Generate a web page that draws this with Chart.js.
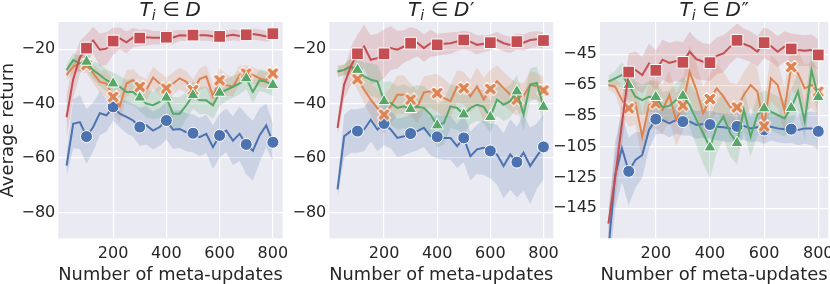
<!DOCTYPE html>
<html>
<head>
<meta charset="utf-8">
<script src="https://cdn.jsdelivr.net/npm/chart.js@4.4.0/dist/chart.umd.min.js"></script>
<style>
    html, body { margin: 0; padding: 0; background: #fff; }
    #wrap { position: relative; width: 830px; height: 284px; overflow: hidden; }
    #wrap canvas { position: absolute; top: 0; }
</style>
</head>
<body>
<div id="wrap">
    <canvas id="panel1" width="300" height="284" style="left:0px"></canvas>
    <canvas id="panel2" width="290" height="284" style="left:280px"></canvas>
    <canvas id="panel3" width="300" height="284" style="left:550px"></canvas>
</div>
<script>
// ── Données ──────────────────────────────────────────────
const UPDATES = [25, 50, 75, 100, 125, 150, 175, 200, 225, 250, 275, 300, 325, 350, 375, 400,
                 425, 450, 475, 500, 525, 550, 575, 600, 625, 650, 675, 700, 725, 750, 775, 800];
const MARKER_AT = [100, 200, 300, 400, 500, 600, 700, 800];
const X_TICKS = [200, 400, 600, 800];
const Y_TICKS_D = [-20, -40, -60, -80];
const Y_TICKS_D1 = [-20, -40, -60, -80];
const Y_TICKS_D2 = [-45, -65, -85, -105, -125, -145];
const TITLE_PRIMES = ['', '\u2032', '\u2033'];

// panel T_i ∈ D
const D_BLUE = [-62.8, -47.4, -46.8, -52.1, -48.6, -43.5, -44.3, -41.2, -43.7, -44.9, -46.2, -48.6, -48, -49.9, -48.6, -46.2,
                -49.6, -49.3, -50.5, -50.9, -52.3, -51.1, -56, -51.7, -49.9, -53.6, -51.1, -55, -57.3, -51.7, -48, -54.2];
const D_BLUE_CI = [4, 9, 10, 10, 9, 8, 6, 5, 5, 6, 6, 7, 7, 7, 7, 7, 7, 7, 7, 7, 7, 7, 8, 8, 8, 9, 10, 11, 11, 10, 8, 7];
const D_ORANGE = [-29.5, -26.4, -25.2, -25.8, -28.9, -32, -32.6, -37.5, -41, -32.6, -31.4, -33.8, -35, -30.4, -32.6, -34.4,
                  -32.6, -30.7, -32, -35, -31, -30, -37.3, -31.4, -33.2, -33.8, -29.5, -28.9, -29.5, -30.7, -31.4, -28.9];
const D_ORANGE_CI = [2, 2.5, 3, 3, 3.5, 4, 5, 6, 6, 5, 4, 4, 4, 4, 4, 4, 4, 4, 4, 4, 4, 4, 4.5, 4.5, 4, 3.5, 3.5, 3, 3, 3, 3, 3];
const D_GREEN = [-27.7, -24, -25.2, -24.6, -27.7, -29.5, -31.4, -32.6, -33.8, -35.7, -35.7, -37.8, -40, -40.6, -39.4, -37.8,
                 -43.7, -43.7, -40.6, -36.9, -38.8, -38.8, -40.6, -36, -35, -33.8, -32.6, -30.7, -35.7, -31.4, -32, -33.2];
const D_GREEN_CI = [2, 2.5, 3, 3, 3.5, 4, 4, 4, 4, 4.5, 5, 5, 5, 5, 6, 6, 6, 6, 5, 5, 5, 5, 5, 5, 4, 4, 4, 4, 4, 4, 4, 4];
const D_RED = [-45, -31, -23, -19.6, -16.8, -20.2, -19.8, -17, -16, -17.5, -15.7, -15.9, -15.6, -15.8, -15.8, -15.6,
               -15.7, -14.9, -15, -14.8, -14.9, -14.9, -15.2, -15.3, -15.1, -14.7, -15.1, -14.7, -14.4, -14.8, -15.3, -14.3];
const D_RED_CI = [8, 7, 6, 5, 5, 6, 6, 5, 4, 4, 3.5, 3, 3, 2.5, 2.5, 2.5, 2.5, 2, 2, 2, 2, 2, 2, 2, 2, 2, 2, 2, 2, 2, 2, 2];

// panel T_i ∈ D′
const D1_BLUE = [-71.5, -52, -50.1, -50.1, -49.5, -45.9, -49.5, -47.3, -49.5, -52.6, -52, -51, -50.1, -48.9, -52, -52.2,
                 -52.6, -52.6, -55.6, -52.6, -59.3, -56.8, -56.2, -57.4, -58.7, -62.9, -58.7, -61.5, -58, -62.9, -59.3, -55.9];
const D1_BLUE_CI = [3, 8, 8, 8, 8, 8, 8, 8, 7, 7, 7, 7, 7, 7, 7, 8, 8, 8, 8, 9, 9, 9, 10, 10, 11, 12, 13, 13, 14, 14, 12, 12];
const D1_ORANGE = [-28.2, -27.6, -26.3, -31, -34.9, -38.5, -41.6, -44, -40.9, -36.7, -36.7, -38.5, -41.2, -35.9, -35.5, -36.1,
                   -37.9, -39.1, -33.7, -34.3, -37.3, -33.7, -38.5, -34.6, -31.8, -34.3, -36.7, -38.5, -37.3, -33, -33.7, -35.1];
const D1_ORANGE_CI = [2, 2, 3, 4, 5, 6, 7, 7, 7, 7, 7, 6, 6, 6, 6, 7, 7, 6, 6, 6, 6, 7, 8, 7, 6, 6, 6, 6, 5, 5, 5, 5];
const D1_GREEN = [-28.2, -27.6, -26.3, -27.6, -30, -31.2, -31.8, -39.1, -39.8, -41.6, -41, -42, -41.2, -41.6, -44, -48,
                  -47.1, -41, -41.6, -44, -41.6, -40.4, -41.2, -44.9, -38.5, -40.4, -39.1, -35.5, -44, -33, -32.4, -41.2];
const D1_GREEN_CI = [2, 2, 3, 4, 5, 6, 6, 7, 8, 8, 8, 8, 8, 8, 8, 8, 8, 8, 8, 7, 6, 6, 6, 6, 6, 6, 6, 6, 6, 6, 6, 6];
const D1_RED = [-48.9, -33, -26.3, -21.7, -19, -23.9, -23.3, -21.7, -19.6, -20.2, -19, -17.8, -17.6, -19.6, -17.8, -18.4,
                -18, -17.8, -17.2, -16.6, -17.2, -18.4, -18, -17.6, -16.6, -17.8, -18.4, -17.2, -17.6, -16.6, -16.3, -16.8];
const D1_RED_CI = [3, 5, 7, 7, 8, 9, 9, 9, 8, 7, 6, 6, 5, 5, 5, 4, 4, 4, 3.5, 3.5, 3.5, 3.5, 3, 3, 3, 3, 3, 3, 3, 3, 3, 3];

// panel T_i ∈ D″
const D2_BLUE = [-172, -123.4, -106, -121, -113.6, -110.4, -94.1, -87.1, -87.6, -89.8, -87.6, -88.7, -88.7, -90.9, -90.2, -90.6,
                 -92, -92.4, -93.1, -91.8, -91.5, -93.1, -92.4, -94.1, -92, -93.1, -93.7, -93.6, -94.1, -93.1, -93.1, -95];
const D2_BLUE_CI = [20, 22, 22, 22, 18, 15, 12, 10, 9, 9, 9, 9, 9, 9, 9, 9, 9, 9, 9, 9, 9, 9, 9, 9, 9, 9, 9, 9, 10, 10, 11, 12];
const D2_ORANGE = [-64.9, -66, -74.7, -80, -76.8, -98.5, -77.9, -76.8, -81.1, -71.4, -87.6, -78.2, -56.3, -68.2, -83.3, -74,
                   -67.1, -72.5, -79.4, -79.4, -71.4, -64.9, -69.2, -91.7, -60.6, -64.9, -81.1, -53.2, -57.3, -67.1, -64.9, -69.2];
const D2_ORANGE_CI = [3, 5, 10, 12, 14, 15, 16, 16, 16, 16, 17, 17, 17, 17, 17, 16, 16, 16, 16, 15, 15, 15, 15, 15, 15, 15, 15, 15, 15, 15, 15, 15];
const D2_GREEN = [-62.7, -60.6, -58.4, -64.9, -72.5, -74.7, -72.5, -72.7, -79.4, -78.5, -74.7, -72, -77.9, -87.6, -96.3, -105.5,
                  -92, -85.5, -96.3, -102.6, -81.1, -98.5, -84.4, -80.1, -82.2, -84.4, -86.6, -79.8, -69.2, -88.7, -55.2, -72.8];
const D2_GREEN_CI = [4, 5, 8, 10, 10, 10, 10, 10, 10, 10, 11, 12, 14, 17, 20, 20, 17, 15, 15, 14, 14, 13, 13, 12, 12, 12, 12, 12, 12, 12, 12, 12];
const D2_RED = [-155, -125, -90, -56.5, -55.2, -58.5, -51, -55.4, -48.5, -50.6, -49.3, -50.2, -43.3, -48.2, -49.8, -50.4,
                -46, -44.4, -40, -35.9, -38.3, -40, -43.3, -37.4, -39.6, -43.3, -40, -41.5, -42.2, -42.6, -42.2, -45.4];
const D2_RED_CI = [10, 15, 15, 12, 12, 12, 13, 13, 13, 13, 13, 13, 13, 13, 12, 12, 12, 12, 11, 11, 10, 10, 10, 10, 10, 10, 10, 10, 10, 10, 10, 10];

// ── Styles ───────────────────────────────────────────────
const COLORS = ['#4C72B0', '#DD8452', '#55A868', '#C44E52'];
const BANDS = ['rgba(76,114,176,0.2)', 'rgba(221,132,82,0.2)', 'rgba(85,168,104,0.2)', 'rgba(196,78,82,0.2)'];
const TEXT = '#262626';
const FONT = 'DejaVu Sans';

Chart.defaults.font.family = FONT;
Chart.defaults.color = TEXT;

// marqueur "X" plein (style matplotlib)
const makeXMarker = (color) => {
    const c = document.createElement('canvas');
    c.width = 16; c.height = 16;
    const g = c.getContext('2d');
    g.translate(8, 8);
    g.rotate(Math.PI / 4);
    const a = 7, t = 2.3;
    g.beginPath();
    g.moveTo(-t, -a); g.lineTo(t, -a); g.lineTo(t, -t); g.lineTo(a, -t); g.lineTo(a, t); g.lineTo(t, t);
    g.lineTo(t, a); g.lineTo(-t, a); g.lineTo(-t, t); g.lineTo(-a, t); g.lineTo(-a, -t); g.lineTo(-t, -t);
    g.closePath();
    g.fillStyle = color; g.fill();
    g.strokeStyle = '#fff'; g.lineWidth = 1; g.stroke();
    return c;
};

const MARKERS = [
    { style: 'circle', r: 6 },
    { style: makeXMarker(COLORS[1]), r: 6 },
    { style: 'triangle', r: 7 },
    { style: 'rect', r: 8.3 }
];

// ── Fond + titre mathématique ────────────────────────────
const panelPlugin = {
    id: 'panelDeco',
    beforeDraw(chart) {
        const { ctx, chartArea: a } = chart;
        ctx.save();
        ctx.fillStyle = '#EAEAF2';
        ctx.fillRect(a.left, a.top, a.right - a.left, a.bottom - a.top);
        ctx.restore();
    },
    afterDraw(chart, args, opts) {
        const { ctx, chartArea: a } = chart;
        const parts = [
            { t: 'T', f: 'italic 20px ' + FONT, dy: 0, gap: 0 },
            { t: 'i', f: 'italic 14px ' + FONT, dy: 4, gap: 6.5 },
            { t: '\u2208', f: '20px ' + FONT, dy: 0, gap: 6 },
            { t: 'D', f: 'italic 20px ' + FONT, dy: 0, gap: 0.5 },
            { t: opts.prime, f: '20px ' + FONT, dy: 0, gap: 0 }
        ];
        ctx.save();
        let total = 0;
        parts.forEach(p => { ctx.font = p.f; p.w = ctx.measureText(p.t).width; total += p.w + p.gap; });
        let x = (a.left + a.right) / 2 - total / 2;
        ctx.fillStyle = TEXT;
        ctx.textBaseline = 'alphabetic';
        parts.forEach(p => {
            ctx.font = p.f;
            ctx.fillText(p.t, x, 16 + p.dy);
            x += p.w + p.gap;
        });
        ctx.restore();
    }
};

const minusFmt = (v) => (v < 0 ? '\u2212' : '') + Math.abs(v);

const buildChart = (id, cfg) => {
    const datasets = [];
    cfg.series.forEach((s, i) => {
        datasets.push({
            data: UPDATES.map((x, j) => ({ x, y: s.mean[j] - s.ci[j] })),
            borderColor: 'rgba(0,0,0,0)', borderWidth: 0, pointRadius: 0, fill: false, order: 20 + i
        });
        datasets.push({
            data: UPDATES.map((x, j) => ({ x, y: s.mean[j] + s.ci[j] })),
            borderColor: 'rgba(0,0,0,0)', borderWidth: 0, pointRadius: 0,
            fill: '-1', backgroundColor: BANDS[i], order: 20 + i
        });
    });
    cfg.series.forEach((s, i) => {
        datasets.push({
            data: UPDATES.map((x, j) => ({ x, y: s.mean[j] })),
            borderColor: COLORS[i],
            borderWidth: 2,
            fill: false,
            tension: 0,
            pointStyle: MARKERS[i].style,
            pointRadius: (c) => (MARKER_AT.includes(UPDATES[c.dataIndex]) ? MARKERS[i].r : 0),
            pointBackgroundColor: COLORS[i],
            pointBorderColor: '#ffffff',
            pointBorderWidth: 1,
            order: 4 - i
        });
    });

    return new Chart(document.getElementById(id), {
        type: 'line',
        data: { datasets },
        plugins: [panelPlugin],
        options: {
            responsive: false,
            animation: false,
            events: [],
            layout: { padding: { left: 0, right: cfg.padRight, top: 22, bottom: 0 } },
            plugins: {
                legend: { display: false },
                tooltip: { enabled: false },
                panelDeco: { prime: cfg.prime }
            },
            scales: {
                x: {
                    type: 'linear',
                    min: -6, max: 837,
                    afterBuildTicks: (s) => { s.ticks = X_TICKS.map(v => ({ value: v })); },
                    afterFit: (s) => { s.height = 45.7; },
                    grid: { color: '#ffffff', lineWidth: 1.2, drawTicks: false },
                    border: { display: false },
                    ticks: { font: { size: 16 }, padding: 6, maxRotation: 0, autoSkip: false, callback: (v) => String(v) },
                    title: { display: true, text: 'Number of meta-updates', font: { size: 18, lineHeight: 1 }, padding: 0 }
                },
                y: {
                    min: cfg.yMin, max: cfg.yMax,
                    afterBuildTicks: (s) => { s.ticks = cfg.yTicks.map(v => ({ value: v })); },
                    afterFit: (s) => { s.width = cfg.yWidth; },
                    grid: { color: '#ffffff', lineWidth: 1.2, drawTicks: false },
                    border: { display: false },
                    ticks: { font: { size: 16 }, padding: 3, autoSkip: false, callback: minusFmt },
                    title: { display: cfg.yTitle, text: 'Average return', font: { size: 18, lineHeight: 0.9 }, padding: 0 }
                }
            }
        }
    });
};

document.addEventListener('DOMContentLoaded', () => {
    buildChart('panel1', {
        prime: TITLE_PRIMES[0], yMin: -89.5, yMax: -10, yTicks: Y_TICKS_D, yWidth: 58.3, padRight: 17.3, yTitle: true,
        series: [
            { mean: D_BLUE, ci: D_BLUE_CI }, { mean: D_ORANGE, ci: D_ORANGE_CI },
            { mean: D_GREEN, ci: D_GREEN_CI }, { mean: D_RED, ci: D_RED_CI }
        ]
    });
    buildChart('panel2', {
        prime: TITLE_PRIMES[1], yMin: -89.5, yMax: -10, yTicks: Y_TICKS_D1, yWidth: 49.3, padRight: 16.7, yTitle: false,
        series: [
            { mean: D1_BLUE, ci: D1_BLUE_CI }, { mean: D1_ORANGE, ci: D1_ORANGE_CI },
            { mean: D1_GREEN, ci: D1_GREEN_CI }, { mean: D1_RED, ci: D1_RED_CI }
        ]
    });
    buildChart('panel3', {
        prime: TITLE_PRIMES[2], yMin: -164.5, yMax: -24, yTicks: Y_TICKS_D2, yWidth: 50, padRight: 21.7, yTitle: false,
        series: [
            { mean: D2_BLUE, ci: D2_BLUE_CI }, { mean: D2_ORANGE, ci: D2_ORANGE_CI },
            { mean: D2_GREEN, ci: D2_GREEN_CI }, { mean: D2_RED, ci: D2_RED_CI }
        ]
    });
});
</script>
</body>
</html>
